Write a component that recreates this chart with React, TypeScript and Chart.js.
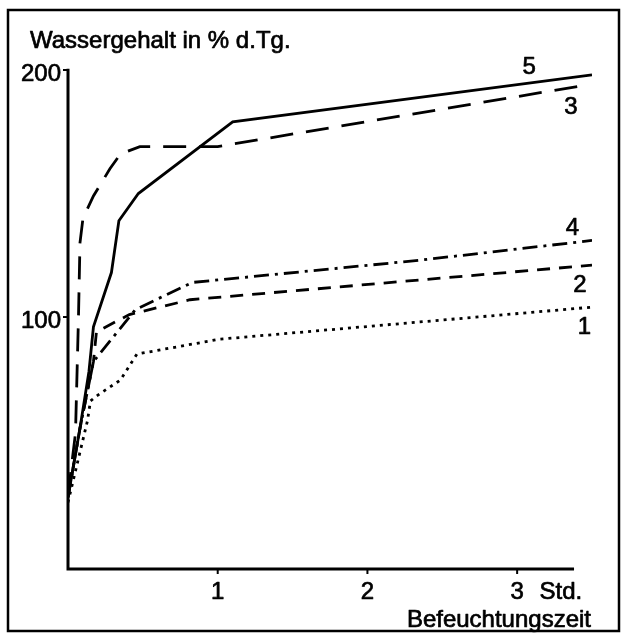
import React, { useEffect, useRef } from "react";
import { Chart, registerables } from "chart.js";

Chart.register(...registerables);

// Befeuchtungszeit (Std.) and Wassergehalt (% d.Tg.) per curve
const T1 = [0, 0.13, 0.15, 0.19, 0.35, 0.46, 1.01, 2.35, 3.5];
const V1 = [25, 58, 66, 68, 74.5, 85, 91, 98, 104];
const T2 = [0, 0.08, 0.17, 0.19, 0.41, 0.815, 2.35, 3.5];
const V2 = [27, 55, 82, 94, 101, 107, 115, 121];
const T3 = [0, 0.05, 0.07, 0.08, 0.1, 0.17, 0.28, 0.35, 0.48, 1.0, 3.47];
const V3 = [28, 53, 100, 130, 140, 149, 160, 166, 169, 169, 194];
const T4 = [0, 0.08, 0.17, 0.45, 0.83, 2.35, 3.5];
const V4 = [27, 55, 82, 103, 114, 123, 131];
const T5 = [0, 0.08, 0.14, 0.17, 0.29, 0.34, 0.47, 1.1, 3.5];
const V5 = [27, 55, 78, 96, 118, 139, 150, 179, 198];

const X_TICKS = [1, 2, 3];
const Y_TICKS = [100, 200];
const CURVE_LABELS = ["1", "2", "3", "4", "5"];
// label anchor positions in data units
const LABEL_T = [3.45, 3.42, 3.36, 3.37, 3.08];
const LABEL_V = [96, 113, 185, 136, 201];

const TITLE = "Wassergehalt in % d.Tg.";
const X_UNIT = "Std.";
const X_TITLE = "Befeuchtungszeit";

const FONT = "'Liberation Sans', Arial, sans-serif";

function pts(t: number[], v: number[]) {
  return t.map((x, i) => ({ x, y: v[i] }));
}

function text(ctx: CanvasRenderingContext2D, s: string, x: number, y: number) {
  ctx.fillText(s, x, y);
  ctx.strokeText(s, x, y);
}

const overlay = {
  id: "overlay",
  afterDraw(chart: any) {
    const ctx = chart.ctx as CanvasRenderingContext2D;
    const xs = chart.scales.x;
    const ys = chart.scales.y;
    const x0 = xs.getPixelForValue(0);
    const yBot = ys.getPixelForValue(-2);
    const yTop = ys.getPixelForValue(200.5);
    ctx.save();
    ctx.strokeStyle = "#000";
    ctx.fillStyle = "#000";
    ctx.lineCap = "butt";
    // frame
    ctx.lineWidth = 2.5;
    ctx.strokeRect(8, 10, 611, 621);
    // axes
    ctx.lineWidth = 3;
    ctx.beginPath();
    ctx.moveTo(x0, yTop);
    ctx.lineTo(x0, yBot);
    ctx.lineTo(xs.getPixelForValue(3.38), yBot);
    ctx.stroke();
    ctx.lineWidth = 2;
    Y_TICKS.forEach((v) => {
      const y = ys.getPixelForValue(v);
      ctx.beginPath();
      ctx.moveTo(x0 - 5, y);
      ctx.lineTo(x0, y);
      ctx.stroke();
    });
    X_TICKS.forEach((t) => {
      const x = xs.getPixelForValue(t);
      ctx.beginPath();
      ctx.moveTo(x, yBot);
      ctx.lineTo(x, yBot + 5);
      ctx.stroke();
    });
    // texts
    ctx.lineWidth = 0.7;
    ctx.lineJoin = "round";
    ctx.font = `24px ${FONT}`;
    ctx.textBaseline = "middle";
    ctx.textAlign = "right";
    Y_TICKS.forEach((v) => {
      text(ctx, String(v), x0 - 7, ys.getPixelForValue(v) + 4);
    });
    ctx.textAlign = "center";
    X_TICKS.forEach((t) => {
      text(ctx, String(t), xs.getPixelForValue(t), yBot + 23);
    });
    ctx.textAlign = "left";
    text(ctx, X_UNIT, xs.getPixelForValue(3.15), yBot + 23);
    ctx.textBaseline = "alphabetic";
    ctx.textAlign = "right";
    text(ctx, X_TITLE, 591, 627);
    ctx.textAlign = "left";
    text(ctx, TITLE, 30, 48);
    ctx.textBaseline = "middle";
    ctx.textAlign = "center";
    CURVE_LABELS.forEach((s, i) => {
      text(ctx, s, xs.getPixelForValue(LABEL_T[i]), ys.getPixelForValue(LABEL_V[i]));
    });
    ctx.restore();
  },
};

export default function App() {
  const ref = useRef<HTMLCanvasElement | null>(null);
  useEffect(() => {
    if (!ref.current) return;
    const base = {
      borderColor: "#000",
      borderWidth: 2.8,
      pointRadius: 0,
      fill: false,
      tension: 0,
      borderCapStyle: "butt" as const,
    };
    const chart = new Chart(ref.current, {
      type: "line",
      data: {
        datasets: [
          { ...base, label: "1", data: pts(T1, V1), borderDash: [3, 5] },
          { ...base, label: "2", data: pts(T2, V2), borderDash: [13, 9] },
          { ...base, label: "3", data: pts(T3, V3), borderDash: [23, 13] },
          { ...base, label: "4", data: pts(T4, V4), borderDash: [15, 6, 3, 6] },
          { ...base, label: "5", data: pts(T5, V5) },
        ],
      },
      options: {
        responsive: false,
        devicePixelRatio: 1,
        animation: false,
        layout: { padding: { left: 68, right: 29, top: 70, bottom: 65 } },
        plugins: { legend: { display: false }, tooltip: { enabled: false } },
        scales: {
          x: { type: "linear", min: 0, max: 3.5, display: false },
          y: { type: "linear", min: -2, max: 200, display: false },
        },
        elements: { line: { borderJoinStyle: "miter" } },
      } as any,
      plugins: [overlay],
    });
    return () => chart.destroy();
  }, []);
  return (
    <div style={{ position: "absolute", left: 0, top: 0, width: 621, height: 634, background: "#fff" }}>
      <canvas ref={ref} width={621} height={634} style={{ display: "block" }} />
    </div>
  );
}
